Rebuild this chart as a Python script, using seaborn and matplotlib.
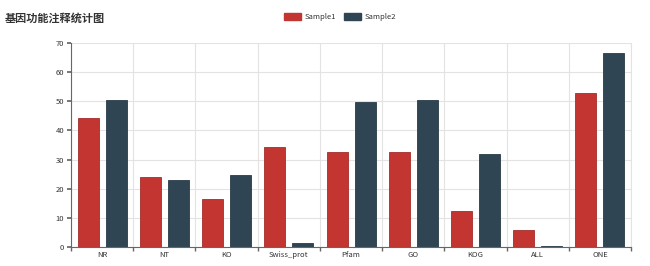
import matplotlib
matplotlib.use("Agg")
import matplotlib.pyplot as plt
import seaborn as sns
import pandas as pd
import numpy as np
from matplotlib.patches import Patch

categories = ["NR", "NT", "KO", "Swiss_prot", "Pfam", "GO", "KOG", "ALL", "ONE"]
sample1 = [44.3, 24.1, 16.6, 34.2, 32.5, 32.7, 12.2, 5.8, 52.9]
sample2 = [50.6, 23.1, 24.6, 1.4, 49.9, 50.5, 32.0, 0.2, 66.7]
series_names = ["Sample1", "Sample2"]
colors = ["#c23531", "#2f4554"]
title = "基因功能注释统计图"

df = pd.DataFrame({
    "cat": categories * 2,
    "value": sample1 + sample2,
    "series": [series_names[0]] * len(categories) + [series_names[1]] * len(categories),
})

sns.set_theme(style="white")
plt.rcParams['font.family'] = ['Noto Sans CJK SC', 'DejaVu Sans']

fig = plt.figure(figsize=(6.5, 2.66), dpi=100)
ax = fig.add_axes([71/650, 1 - 247/266, (631-71)/650, (247-43)/266])

sns.barplot(data=df, x="cat", y="value", hue="series", palette=colors,
            width=0.9, gap=0.25, ax=ax, legend=False, errorbar=None,
            saturation=1, linewidth=0.6)
for p in ax.patches:
    fc = p.get_facecolor()
    p.set_edgecolor(tuple(c * 0.85 for c in fc[:3]))
    p.set_linewidth(0.6)

n = len(categories)
ax.set_xlim(-0.5, n - 0.5)
ax.set_ylim(0, 70)
ax.set_yticks(np.arange(0, 71, 10))
ax.set_xticks(range(n))
ax.set_xticklabels(categories)
ax.set_xticks(np.arange(-0.5, n, 1), minor=True)
ax.set_xlabel("")
ax.set_ylabel("")

ax.grid(axis="y", which="major", color="#e3e3e3", linewidth=0.8)
ax.grid(axis="x", which="minor", color="#e3e3e3", linewidth=0.8)
ax.set_axisbelow(True)

ax.spines["top"].set_visible(False)
ax.spines["right"].set_visible(True)
ax.spines["right"].set_color("#e3e3e3")
ax.spines["right"].set_linewidth(0.8)
for s in ["left", "bottom"]:
    ax.spines[s].set_color("#666666")
    ax.spines[s].set_linewidth(0.8)

ax.tick_params(axis="x", which="major", length=0, labelsize=5.5, colors="#333333", pad=3)
ax.tick_params(axis="x", which="minor", length=3, color="#666666", direction="out", bottom=True)
ax.tick_params(axis="y", which="major", length=3, color="#666666", direction="out",
               labelsize=5.5, labelcolor="#333333", left=True, pad=2)

fig.text(5/650, 1 - 18/266, title, fontsize=8, fontweight="bold", color="#333333",
         va="center", ha="left")

handles = [Patch(facecolor=c, edgecolor=c) for c in colors]
fig.legend(handles, series_names, loc="center", bbox_to_anchor=(340/650, 1 - 17/266),
           ncol=2, frameon=False, fontsize=5.5, handlelength=2.2, handleheight=1.0,
           columnspacing=1.0, handletextpad=0.5, labelcolor="#333333")

fig.savefig("out.png", dpi=100, facecolor="white")
